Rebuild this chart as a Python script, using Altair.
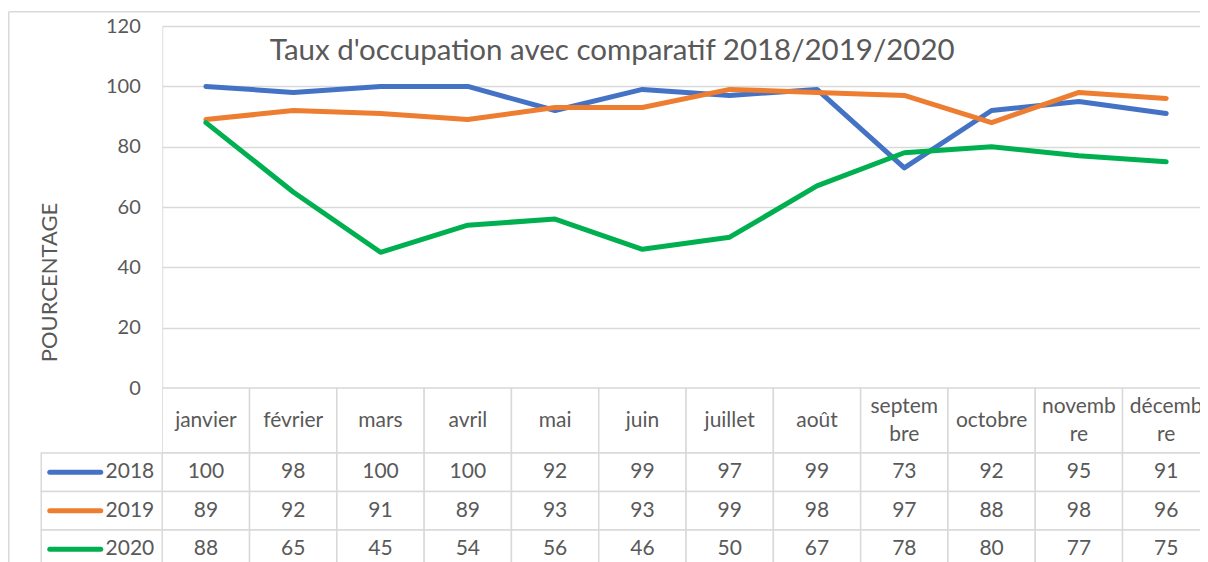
import altair as alt
import pandas as pd

# ---------------- data ----------------
months = ["janvier", "février", "mars", "avril", "mai", "juin", "juillet",
          "août", "septembre", "octobre", "novembre", "décembre"]
month_labels = ["janvier", "février", "mars", "avril", "mai", "juin", "juillet",
                "août", "septem\nbre", "octobre", "novemb\nre", "décemb\nre"]
years = ["2018", "2019", "2020"]
v2018 = [100, 98, 100, 100, 92, 99, 97, 99, 73, 92, 95, 91]
v2019 = [89, 92, 91, 89, 93, 93, 99, 98, 97, 88, 98, 96]
v2020 = [88, 65, 45, 54, 56, 46, 50, 67, 78, 80, 77, 75]
y_ticks = [0, 20, 40, 60, 80, 100, 120]
title_text = "Taux d'occupation avec comparatif 2018/2019/2020"
y_title = "POURCENTAGE"

colors = ["#4472C4", "#ED7D31", "#00B050"]
TXT = "#595959"
GRID = "#D9D9D9"
FONT = "Lato"

rows = []
for yr, vals in zip(years, [v2018, v2019, v2020]):
    for m, v in zip(months, vals):
        rows.append({"mois": m, "annee": yr, "valeur": v})
df = pd.DataFrame(rows)
hdr = pd.DataFrame({"mois": months, "libelle": month_labels, "ligne": ["mois"] * len(months)})
leg = pd.DataFrame({"annee": years})
ttl = pd.DataFrame({"titre": [title_text]})
one = pd.DataFrame({"k": [0]})

# ---------------- layout sizes ----------------
COL = 87.3
W = COL * 12
PLOT_H = 362
HDR_H = 65
ROW_H = 38.5
TOTAL_H = PLOT_H + HDR_H + 3 * ROW_H
PAD_L = 154.25
PAD_T = 18.05
SVG_W = 1192
VIEW_W = SVG_W - PAD_L
VIEW_H = TOTAL_H + 4

xs = alt.Scale(type="band", domain=months, range=[0, W], paddingInner=0, paddingOuter=0)
x_enc = alt.X("mois:N", scale=xs, axis=None)
x_mid = alt.X("mois:N", scale=xs, axis=None, bandPosition=0.5)
color_enc = alt.Color("annee:N", scale=alt.Scale(domain=years, range=colors), legend=None)

hdr_y = alt.Y("ligne:N", axis=None,
              scale=alt.Scale(domain=["mois"], range=[PLOT_H, PLOT_H + HDR_H],
                              paddingInner=0, paddingOuter=0))


def body_y(mid=False):
    kw = dict(axis=None,
              scale=alt.Scale(domain=years, range=[PLOT_H + HDR_H, TOTAL_H],
                              paddingInner=0, paddingOuter=0))
    if mid:
        kw["bandPosition"] = 0.5
    return alt.Y("annee:N", **kw)


# outer chart frame (decoration): left and top edges
frame_left = alt.Chart(one).mark_rule(stroke=GRID, strokeWidth=1.5).encode(
    x=alt.value(-153.5), y=alt.value(-14.3), y2=alt.value(VIEW_H))
frame_top = alt.Chart(one).mark_rule(stroke=GRID, strokeWidth=1.5).encode(
    x=alt.value(-153.5), x2=alt.value(VIEW_W), y=alt.value(-14.3))

lines = alt.Chart(df).mark_line(strokeWidth=5, strokeCap="round", strokeJoin="round").encode(
    x=x_mid,
    y=alt.Y("valeur:Q",
            scale=alt.Scale(domain=[0, 120], range=[PLOT_H, 0], nice=False),
            axis=alt.Axis(values=y_ticks, grid=True, gridColor=GRID, gridWidth=1.5,
                          domain=False, ticks=False, labelPadding=22,
                          labelFont=FONT, labelFontSize=20, labelColor=TXT,
                          title=y_title, titleFont=FONT, titleFontSize=22,
                          titleFontWeight="normal", titleColor=TXT,
                          titleAngle=-90, titleX=-113, titleY=256,
                          titleAlign="center", titleBaseline="middle")),
    color=color_enc,
    detail="annee:N",
)

title_mark = alt.Chart(ttl).mark_text(font=FONT, fontSize=29.5, color=TXT,
                                      align="center", baseline="alphabetic").encode(
    x=alt.value(450), y=alt.value(34), text="titre:N")

hdr_rect = alt.Chart(hdr).mark_rect(fill="white", stroke=GRID, strokeWidth=1.5, clip=True).encode(
    x=x_enc, y=hdr_y)
hdr_text1 = alt.Chart(hdr).transform_filter(
    "indexof(datum.libelle, '\\n') < 0"
).mark_text(font=FONT, fontSize=21, color=TXT, clip=True).encode(
    x=x_mid, y=hdr_y, text="libelle:N")
hdr_text2 = alt.Chart(hdr).transform_filter(
    "indexof(datum.libelle, '\\n') >= 0"
).mark_text(font=FONT, fontSize=21, color=TXT, lineBreak="\n", lineHeight=28, dy=-14,
            clip=True).encode(
    x=x_mid, y=hdr_y, text="libelle:N")

body_rect = alt.Chart(df).mark_rect(fill="white", stroke=GRID, strokeWidth=1.5, clip=True).encode(
    x=x_enc, y=body_y())
body_text = alt.Chart(df).mark_text(font=FONT, fontSize=21, color=TXT, clip=True).encode(
    x=x_mid, y=body_y(True), text="valeur:Q")

leg_rect = alt.Chart(leg).mark_rect(fill="white", stroke=GRID, strokeWidth=1.5).encode(
    x=alt.value(-121), x2=alt.value(0), y=body_y())
leg_swatch = alt.Chart(leg).mark_rule(strokeWidth=5, strokeCap="round").encode(
    x=alt.value(-112.5), x2=alt.value(-61.5), y=body_y(True), color=color_enc)
leg_text = alt.Chart(leg).mark_text(font=FONT, fontSize=21, color=TXT, align="right").encode(
    x=alt.value(-8), y=body_y(True), text="annee:N")

chart = alt.layer(
    frame_left, frame_top, lines, title_mark, hdr_rect, hdr_text1, hdr_text2,
    body_rect, body_text, leg_rect, leg_swatch, leg_text
).resolve_scale(y="independent").properties(
    width=VIEW_W, height=VIEW_H,
    autosize=alt.AutoSizeParams(type="none"),
    padding={"left": PAD_L, "top": PAD_T, "right": 0, "bottom": 0},
).configure_view(stroke=None).configure(background="white")

chart.save("out.html", embed_options={"renderer": "svg", "actions": False})
